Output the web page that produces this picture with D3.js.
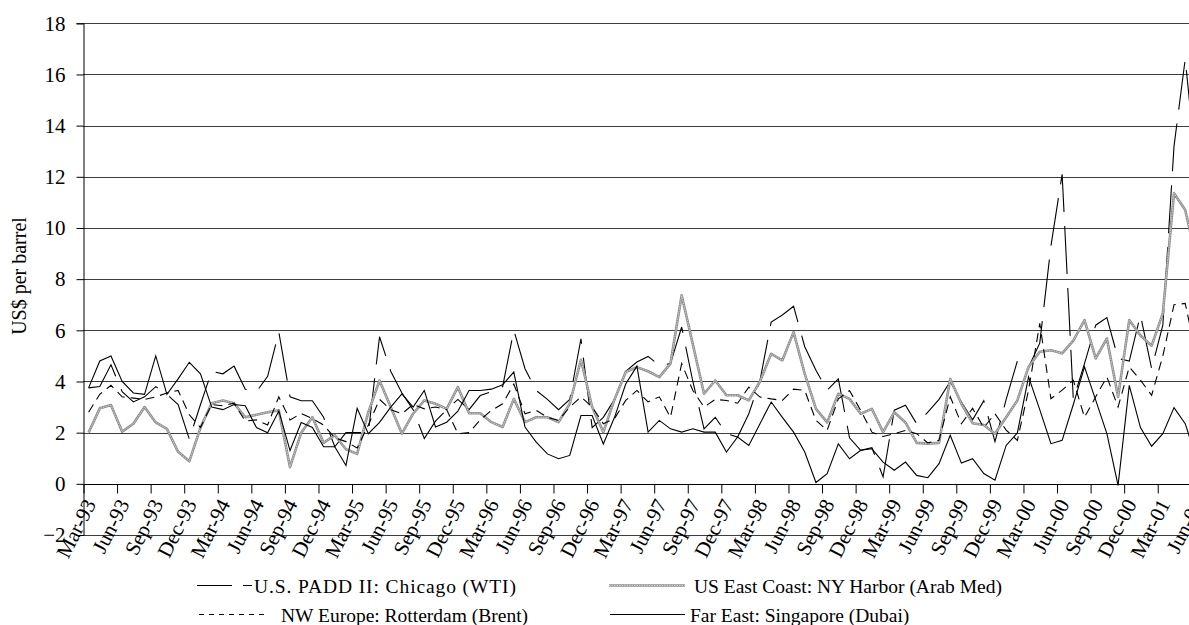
<!DOCTYPE html>
<html><head><meta charset="utf-8">
<script src="https://cdn.jsdelivr.net/npm/d3@7"></script>
<style>
html,body{margin:0;padding:0;background:#fff;}
svg{display:block;}
svg text{font-family:"Liberation Serif","Times New Roman",Tinos,Times,"DejaVu Serif",serif !important;fill:#000;}
</style></head><body>
<svg id="chart" width="1189" height="625"></svg>
<script>
const monthNames = ["Jan","Feb","Mar","Apr","May","Jun","Jul","Aug","Sep","Oct","Nov","Dec"];
const categories = [];
for (let y = 1993; y <= 2001; y++) {
  for (let m = 0; m < 12; m++) {
    if ((y === 1993 && m < 2) || (y === 2001 && m > 5)) continue;
    categories.push(monthNames[m] + "-" + String(y).slice(2));
  }
}
const tickLabels = ["Mar-93","Jun-93","Sep-93","Dec-93","Mar-94","Jun-94","Sep-94","Dec-94",
  "Mar-95","Jun-95","Sep-95","Dec-95","Mar-96","Jun-96","Sep-96","Dec-96",
  "Mar-97","Jun-97","Sep-97","Dec-97","Mar-98","Jun-98","Sep-98","Dec-98",
  "Mar-99","Jun-99","Sep-99","Dec-99","Mar-00","Jun-00","Sep-00","Dec-00","Mar-01","Jun-01"];
const yTicks = [-2,0,2,4,6,8,10,12,14,16,18];

const chicagoWTI = [
  3.75,3.8,4.65,3.6,3.2,3.4,3.8,3.5,3.1,1.75,
  3.1,4.4,4.3,4.6,3.7,3.6,4.2,5.93,3.4,3.25,
  3.25,2.6,1.45,2.0,2.0,2.0,5.75,4.4,3.55,2.9,
  1.77,2.45,2.9,3.3,2.9,3.45,3.6,3.8,6.0,4.5,
  3.65,3.3,2.9,3.3,5.67,2.2,2.6,3.3,4.4,4.76,
  4.98,4.63,4.7,6.13,4.0,2.15,2.6,1.96,1.83,2.74,
  4.04,6.32,6.6,6.94,5.36,4.44,3.66,4.1,1.8,1.31,
  1.41,0.27,2.88,3.07,2.35,2.8,3.3,4.0,3.2,2.5,
  3.25,1.65,3.3,4.8,4.55,5.5,9.3,12.1,3.3,4.7,
  6.2,6.5,4.9,4.8,6.6,4.5,6.2,13.2,16.6,12.3];
const nyHarborArabMed = [
  2.0,2.95,3.08,2.04,2.35,3.0,2.4,2.15,1.25,0.88,
  2.2,3.15,3.26,3.15,2.6,2.7,2.8,2.87,0.65,2.0,
  2.6,1.6,1.9,1.35,1.17,2.8,4.04,3.0,1.96,2.74,
  3.26,3.13,2.93,3.78,2.76,2.76,2.41,2.22,3.32,2.41,
  2.6,2.6,2.41,3.13,4.85,3.0,2.02,3.3,4.37,4.56,
  4.4,4.17,4.7,7.37,5.45,3.52,4.04,3.46,3.46,3.26,
  4.0,5.08,4.83,5.93,4.3,2.93,2.4,3.52,3.32,2.74,
  2.93,2.02,2.8,2.4,1.6,1.57,1.6,4.1,3.13,2.37,
  2.3,1.96,2.6,3.26,4.57,5.16,5.22,5.1,5.6,6.4,
  4.9,5.68,3.4,6.4,5.8,5.4,6.66,11.36,10.7,8.8];
const rotterdamBrent = [
  2.8,3.5,3.85,3.4,3.35,3.3,3.4,3.55,3.65,2.7,
  2.2,3.1,3.05,3.15,2.45,2.5,2.3,3.4,2.5,2.75,
  2.55,2.3,1.8,1.65,1.4,2.3,3.3,2.9,2.74,3.1,
  2.93,3.0,2.9,1.96,2.0,2.5,2.87,3.13,3.9,2.74,
  2.87,2.6,2.48,3.0,3.4,3.0,2.35,2.55,3.26,3.65,
  3.2,3.4,2.6,4.7,3.65,3.0,3.3,3.26,3.15,3.78,
  3.39,3.32,3.26,3.7,3.65,2.48,2.09,3.32,3.65,2.87,
  2.02,1.85,1.96,2.09,1.96,1.6,1.7,3.4,2.35,2.95,
  2.2,2.74,2.1,1.7,3.66,6.27,3.33,3.66,4.05,2.6,
  3.4,4.18,3.0,4.57,4.05,3.46,5.0,7.0,7.05,5.0];
const singaporeDubai = [
  3.75,4.8,5.0,4.0,3.55,3.5,5.0,3.5,4.1,4.75,
  4.3,3.0,2.9,3.1,3.05,2.2,2.0,2.85,1.3,2.4,
  2.2,1.45,1.45,0.72,2.95,1.96,2.4,3.0,3.52,3.0,
  3.65,2.22,2.41,2.84,3.65,3.65,3.7,3.87,4.37,2.22,
  1.63,1.17,0.98,1.11,2.67,2.67,1.56,2.6,3.9,4.6,
  2.02,2.48,2.15,2.02,2.15,2.02,2.02,1.24,1.83,1.5,
  2.35,3.2,2.6,2.02,1.24,0.05,0.4,1.56,0.98,1.31,
  1.37,0.85,0.53,0.85,0.33,0.24,0.79,1.9,0.81,0.98,
  0.4,0.14,1.5,1.99,4.18,2.9,1.57,1.7,3.1,4.57,
  3.27,1.96,-0.06,3.85,2.2,1.47,1.96,2.98,2.35,1.0];

const svg = d3.select("#chart");
const left = 83, step = 11.19;
const xIdx = d3.scaleLinear().domain([0, categories.length]).range([left, left + categories.length * step]);
const x = d3.scaleBand().domain(categories).range(xIdx.range()).padding(0);
const y = d3.scaleLinear().domain([-2, 18]).range([535, 23.3]);

// gridlines
svg.append("g").selectAll("line").data(yTicks.filter(d => d !== 0)).join("line")
  .attr("x1", left).attr("x2", 1189)
  .attr("y1", d => Math.round(y(d)) + 0.5).attr("y2", d => Math.round(y(d)) + 0.5)
  .attr("stroke", "#3c3c3c").attr("stroke-width", 1);

// y axis
const yAxis = svg.append("g").attr("transform", `translate(${left + 0.5},0)`)
  .call(d3.axisLeft(y).tickValues(yTicks).tickSize(7).tickPadding(11).tickFormat(d3.format("d")));
yAxis.attr("font-family", null);
yAxis.select(".domain").attr("stroke", "#000");
yAxis.selectAll(".tick line").attr("stroke", "#000");
yAxis.selectAll("text").attr("font-size", 21);

// x axis at 0
const xAxis = svg.append("g").attr("transform", `translate(0.5,${Math.round(y(0)) + 0.5})`)
  .call(d3.axisBottom(xIdx).tickValues(d3.range(0, categories.length, 3)).tickSize(9)
    .tickFormat((d, i) => tickLabels[i]));
xAxis.attr("font-family", null);
xAxis.select(".domain").attr("d", `M${left},0H1189`).attr("stroke", "#000");
xAxis.selectAll(".tick line").attr("stroke", "#000");
xAxis.selectAll("text").attr("font-size", 21)
  .attr("text-anchor", "end").attr("x", 0).attr("y", 0).attr("dy", "0.35em")
  .attr("transform", "translate(6,16) rotate(-63)");

// y title
svg.append("text").attr("transform", "translate(26,276) rotate(-90)")
  .attr("text-anchor", "middle").attr("font-size", 20).text("US$ per barrel");

const line = d3.line().x((d, i) => x(categories[i]) + x.bandwidth() / 2).y(d => y(d));
const plot = svg.append("g");
plot.append("path").datum(chicagoWTI).attr("d", line).attr("fill", "none")
  .attr("stroke", "#000").attr("stroke-width", 1.1).attr("stroke-dasharray", "48,14");
plot.append("path").datum(nyHarborArabMed).attr("d", line).attr("fill", "none")
  .attr("stroke", "#8e8e8e").attr("stroke-width", 2.6).attr("stroke-linejoin", "round");
plot.append("path").datum(nyHarborArabMed).attr("d", line).attr("fill", "none")
  .attr("stroke", "#dadada").attr("stroke-width", 0.9).attr("stroke-dasharray", "1.5,1")
  .attr("stroke-linejoin", "round");
plot.append("path").datum(rotterdamBrent).attr("d", line).attr("fill", "none")
  .attr("stroke", "#000").attr("stroke-width", 1.1).attr("stroke-dasharray", "9,6");
plot.append("path").datum(singaporeDubai).attr("d", line).attr("fill", "none")
  .attr("stroke", "#000").attr("stroke-width", 1.1);

// legend
const lg = svg.append("g").attr("font-size", 19.5);
lg.append("line").attr("x1", 197).attr("x2", 252).attr("y1", 585.5).attr("y2", 585.5)
  .attr("stroke", "#000").attr("stroke-dasharray", "35,11");
lg.append("text").attr("x", 254).attr("y", 586).attr("dy", "0.35em")
  .attr("textLength", 262).attr("lengthAdjust", "spacing").text("U.S. PADD II: Chicago (WTI)");
lg.append("line").attr("x1", 609).attr("x2", 685).attr("y1", 585.5).attr("y2", 585.5)
  .attr("stroke", "#8e8e8e").attr("stroke-width", 2.6);
lg.append("line").attr("x1", 609).attr("x2", 685).attr("y1", 585.5).attr("y2", 585.5)
  .attr("stroke", "#dadada").attr("stroke-width", 0.9).attr("stroke-dasharray", "1.5,1");
lg.append("text").attr("x", 694).attr("y", 586).attr("dy", "0.35em").text("US East Coast: NY Harbor (Arab Med)");
lg.append("line").attr("x1", 199).attr("x2", 268).attr("y1", 614.5).attr("y2", 614.5)
  .attr("stroke", "#000").attr("stroke-dasharray", "5,5");
lg.append("text").attr("x", 281).attr("y", 615).attr("dy", "0.35em").text("NW Europe: Rotterdam (Brent)");
lg.append("line").attr("x1", 610).attr("x2", 685).attr("y1", 614.5).attr("y2", 614.5)
  .attr("stroke", "#000");
lg.append("text").attr("x", 690).attr("y", 615).attr("dy", "0.35em").text("Far East: Singapore (Dubai)");
</script></body></html>
